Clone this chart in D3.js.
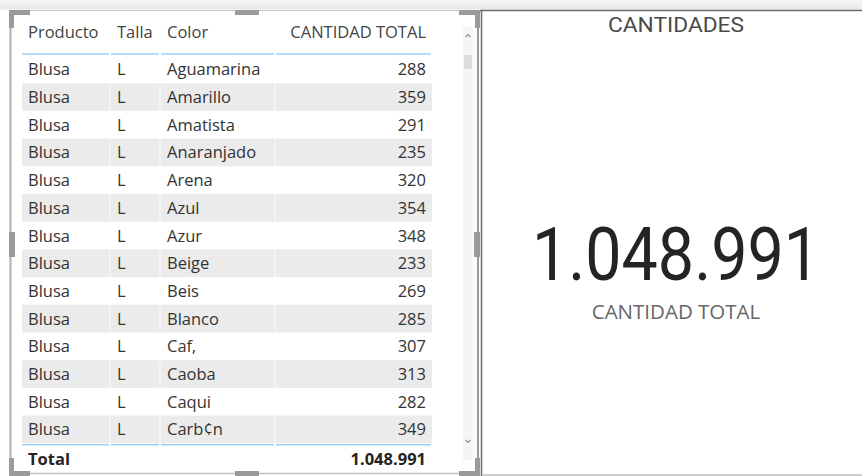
<!DOCTYPE html>
<html>
<head>
<meta charset="utf-8">
<script src="https://cdn.jsdelivr.net/npm/d3@7"></script>
<style>
  html, body { margin: 0; padding: 0; background: #ffffff; }
  svg { display: block; }
</style>
</head>
<body>
<div id="chart"></div>
<script>
// ---------- DATA ----------
const encabezados = ["Producto", "Talla", "Color", "CANTIDAD TOTAL"];
const productos = ["Blusa","Blusa","Blusa","Blusa","Blusa","Blusa","Blusa","Blusa","Blusa","Blusa","Blusa","Blusa","Blusa","Blusa"];
const tallas = ["L","L","L","L","L","L","L","L","L","L","L","L","L","L"];
const colores = ["Aguamarina","Amarillo","Amatista","Anaranjado","Arena","Azul","Azur","Beige","Beis","Blanco","Caf\u201A","Caoba","Caqui","Carb\u00A2n"];
const cantidades = [288, 359, 291, 235, 320, 354, 348, 233, 269, 285, 307, 313, 282, 349];
const etiquetaTotal = "Total";
const cantidadTotal = 1048991;
const tituloTarjeta = "CANTIDADES";
const etiquetaTarjeta = "CANTIDAD TOTAL";

// ---------- SETUP ----------
const W = 862, H = 476;
const fmt = d3.formatLocale({decimal: ",", thousands: ".", grouping: [3], currency: ["$", ""]}).format(",d");

const svg = d3.select("#chart").append("svg")
  .attr("width", W).attr("height", H)
  .attr("viewBox", `0 0 ${W} ${H}`);

const defs = svg.append("defs");
const grad = defs.append("linearGradient").attr("id", "topband")
  .attr("x1", 0).attr("y1", 0).attr("x2", 0).attr("y2", 1);
grad.append("stop").attr("offset", "0%").attr("stop-color", "#f6f6f6");
grad.append("stop").attr("offset", "100%").attr("stop-color", "#e7e7e7");

// top band
svg.append("rect").attr("x", 0).attr("y", 0).attr("width", W).attr("height", 9.5).attr("fill", "url(#topband)");

// ---------- TABLE ----------
const rows = colores.map((c, i) => ({producto: productos[i], talla: tallas[i], color: c, cantidad: cantidades[i]}));
const tableFont = "'Open Sans', 'Segoe UI', sans-serif";
const fs = 16.5;

// column boundaries and text anchors
const colEdges = [22, 110, 160, 275, 432];
const colText = d3.scaleOrdinal().domain(encabezados).range([28, 117, 167, 426]);
const colAnchor = d3.scaleOrdinal().domain(encabezados).range(["start", "start", "start", "end"]);

const y = d3.scaleBand().domain(d3.range(rows.length)).range([55.5, 443.3]).paddingInner(0);

const table = svg.append("g");

// row bands
const rowG = table.selectAll("g.row").data(rows).join("g").attr("class", "row")
  .attr("transform", (d, i) => `translate(0,${y(i)})`);

rowG.filter((d, i) => i % 2 === 1).append("rect")
  .attr("x", colEdges[0]).attr("y", 0)
  .attr("width", colEdges[4] - colEdges[0]).attr("height", y.bandwidth())
  .attr("fill", "#ebebeb");

// faint column separators in shaded rows
rowG.filter((d, i) => i % 2 === 1).selectAll("line.sep").data(colEdges.slice(1, 4)).join("line")
  .attr("x1", d => d).attr("x2", d => d).attr("y1", 0).attr("y2", y.bandwidth())
  .attr("stroke", "#f6f6f6").attr("stroke-width", 1.5);

const fields = ["producto", "talla", "color", "cantidad"];
fields.forEach((f, k) => {
  rowG.append("text")
    .attr("x", colText(encabezados[k]))
    .attr("y", y.bandwidth() / 2 + 6)
    .attr("text-anchor", colAnchor(encabezados[k]))
    .attr("font-family", tableFont).attr("font-size", fs)
    .attr("fill", "#333333")
    .text(d => f === "cantidad" ? fmt(d[f]) : d[f]);
});

// header
table.selectAll("text.hdr").data(encabezados).join("text").attr("class", "hdr")
  .attr("x", d => colText(d)).attr("y", 38)
  .attr("text-anchor", d => colAnchor(d))
  .attr("font-family", tableFont).attr("font-size", fs)
  .attr("fill", "#444444")
  .text(d => d);

// header underline & total overline (segmented)
const segs = d3.pairs(colEdges);
[y.range()[0] - 1.5, y.range()[1] + 1.5].forEach(ly => {
  table.selectAll(null).data(segs).join("line")
    .attr("x1", d => d[0] + (d[0] === colEdges[0] ? 0 : 1)).attr("x2", d => d[1] - 1)
    .attr("y1", ly).attr("y2", ly)
    .attr("stroke", "#9fd0f7").attr("stroke-width", 1.6);
});

// total row
table.append("text").attr("x", colText(encabezados[0])).attr("y", 465)
  .attr("font-family", tableFont).attr("font-size", fs).attr("font-weight", 700)
  .attr("fill", "#252423").text(etiquetaTotal);
table.append("text").attr("x", colText(encabezados[3])).attr("y", 465)
  .attr("text-anchor", "end")
  .attr("font-family", tableFont).attr("font-size", fs).attr("font-weight", 700)
  .attr("fill", "#252423").text(fmt(cantidadTotal));

// scrollbar
const sb = svg.append("g");
sb.append("rect").attr("x", 463).attr("y", 27).attr("width", 10).attr("height", 433).attr("fill", "#f5f5f5");
sb.append("rect").attr("x", 464).attr("y", 55).attr("width", 8).attr("height", 14).attr("fill", "#dcdcdc");
sb.append("path").attr("d", "M465.5,37 L468,34.5 L470.5,37").attr("fill", "none").attr("stroke", "#909090").attr("stroke-width", 1.1);
sb.append("path").attr("d", "M465.5,440 L468,442.5 L470.5,440").attr("fill", "none").attr("stroke", "#909090").attr("stroke-width", 1.1);

// frame of left visual
const fr = svg.append("g");
fr.append("line").attr("x1", 10.5).attr("x2", 10.5).attr("y1", 10).attr("y2", 474).attr("stroke", "#b0b0b0").attr("stroke-width", 2);
fr.append("line").attr("x1", 478).attr("x2", 478).attr("y1", 10).attr("y2", 474).attr("stroke", "#9a9a9a").attr("stroke-width", 2);
fr.append("line").attr("x1", 10).attr("x2", 479).attr("y1", 10.5).attr("y2", 10.5).attr("stroke", "#c8c8c8").attr("stroke-width", 1);
fr.append("line").attr("x1", 10).attr("x2", 479).attr("y1", 473.5).attr("y2", 473.5).attr("stroke", "#c0c0c0").attr("stroke-width", 1.5);
const bracketColor = "#9b9b9b";
// corners
[[9, 10, 1, 1], [480, 10, -1, 1], [9, 476, 1, -1], [480, 476, -1, -1]].forEach(([cx, cy, sx, sy]) => {
  const p = `M${cx},${cy} h${sx*21} v${sy*5} h${-sx*16} v${sy*13} h${-sx*5} Z`;
  fr.append("path").attr("d", p).attr("fill", bracketColor);
});
// mid handles
fr.append("rect").attr("x", 235).attr("y", 10).attr("width", 24).attr("height", 5).attr("fill", bracketColor);
fr.append("rect").attr("x", 235).attr("y", 471).attr("width", 24).attr("height", 5).attr("fill", bracketColor);
fr.append("rect").attr("x", 9).attr("y", 232).attr("width", 6).attr("height", 25).attr("fill", bracketColor);
fr.append("rect").attr("x", 474).attr("y", 232).attr("width", 6).attr("height", 25).attr("fill", bracketColor);

// ---------- CARD ----------
const card = svg.append("g");
card.append("line").attr("x1", 480).attr("x2", W).attr("y1", 10.5).attr("y2", 10.5).attr("stroke", "#6b6b6b").attr("stroke-width", 1.5);
card.append("line").attr("x1", 481.5).attr("x2", 481.5).attr("y1", 10).attr("y2", H).attr("stroke", "#6b6b6b").attr("stroke-width", 1.5);
card.append("line").attr("x1", 482).attr("x2", W).attr("y1", 475).attr("y2", 475).attr("stroke", "#cfcfcf").attr("stroke-width", 2);

const cx = 676;
card.append("text").attr("x", cx).attr("y", 32)
  .attr("text-anchor", "middle")
  .attr("font-family", "Roboto, 'DejaVu Sans', sans-serif").attr("font-size", 20)
  .attr("textLength", 136).attr("lengthAdjust", "spacingAndGlyphs")
  .attr("fill", "#4a4a4a").text(tituloTarjeta);

card.append("text").attr("x", cx).attr("y", 280)
  .attr("text-anchor", "middle")
  .attr("font-family", "Roboto, 'DejaVu Sans', sans-serif").attr("font-size", 74)
  .attr("textLength", 288).attr("lengthAdjust", "spacingAndGlyphs")
  .attr("fill", "#252423").text(fmt(cantidadTotal));

card.append("text").attr("x", cx).attr("y", 319)
  .attr("text-anchor", "middle")
  .attr("font-family", tableFont).attr("font-size", 20.5)
  .attr("fill", "#666666").text(etiquetaTarjeta);
</script>
</body>
</html>
